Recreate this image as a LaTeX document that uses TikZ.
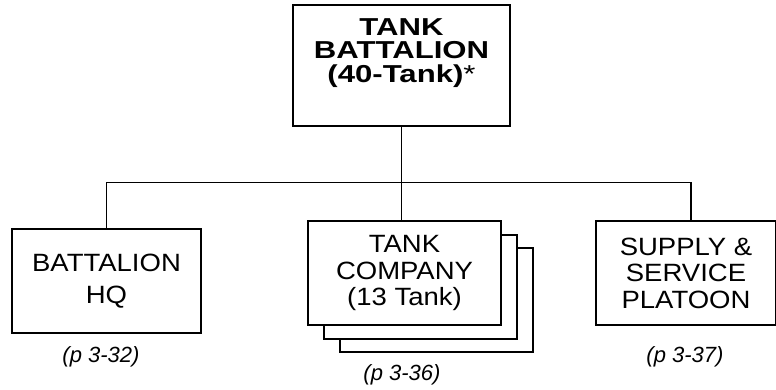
\documentclass[tikz,border=0pt]{standalone}
\usepackage{fontspec}
\setmainfont{Liberation Sans}
\newfontfamily\unitfont[FakeStretch=1.1]{Liberation Sans}
\newfontfamily\headfont[FakeStretch=1.27]{Liberation Sans}
\usetikzlibrary{positioning,calc}

\begin{document}
\begin{tikzpicture}[x=1pt,y=-1pt,
    unitbox/.style={draw, line width=1.6pt, fill=white, align=center,
      minimum height=104pt, inner sep=0pt,
      font=\unitfont\fontsize{25}{26.5}\selectfont},
    pageref/.style={font=\fontsize{22}{24}\selectfont\itshape},
    link/.style={line width=1.3pt}]
  \useasboundingbox (0,0) rectangle (776,389);

  % battalion
  \node[draw, line width=1.6pt, minimum width=217pt, minimum height=121pt] (bn) at (401.5,65.5) {};
  \node[align=center, font=\headfont\bfseries\fontsize{24.5}{23.5}\selectfont] (bntext) at (401.5,53)
    {TANK\\BATTALION\\(40-Tank)\textmd{*}};

  % units
  \node[unitbox, minimum width=189pt] (hq) at (106.5,281) {BATTALION\\[5pt]HQ};
  \node[unitbox, minimum width=193pt] (co3) at (436.5,300) {};
  \node[unitbox, minimum width=193pt] (co2) at (420.5,287) {};
  \node[unitbox, minimum width=193pt] (co) at (404.5,273) {TANK\\COMPANY\\(13 Tank)};
  \node[unitbox, minimum width=180pt] (sup) at (686,273) {SUPPLY \&\\SERVICE\\PLATOON};

  % page references
  \node[pageref] (hqref) at (101,357) {(p 3-32)};
  \node[pageref] (coref) at (402,375) {(p 3-36)};
  \node[pageref] (supref) at (685,357) {(p 3-37)};

  % connectors
  \coordinate (bus) at ($(bn.south)+(0,56)$);
  \coordinate (suptop) at ($(sup.north)+(5,0)$);
  \draw[link] (bn.south) -- (bn.south |- co.north);
  \draw[link] (hq.north) -- (hq.north |- bus) -- (suptop |- bus) -- (suptop);
\end{tikzpicture}
\end{document}
